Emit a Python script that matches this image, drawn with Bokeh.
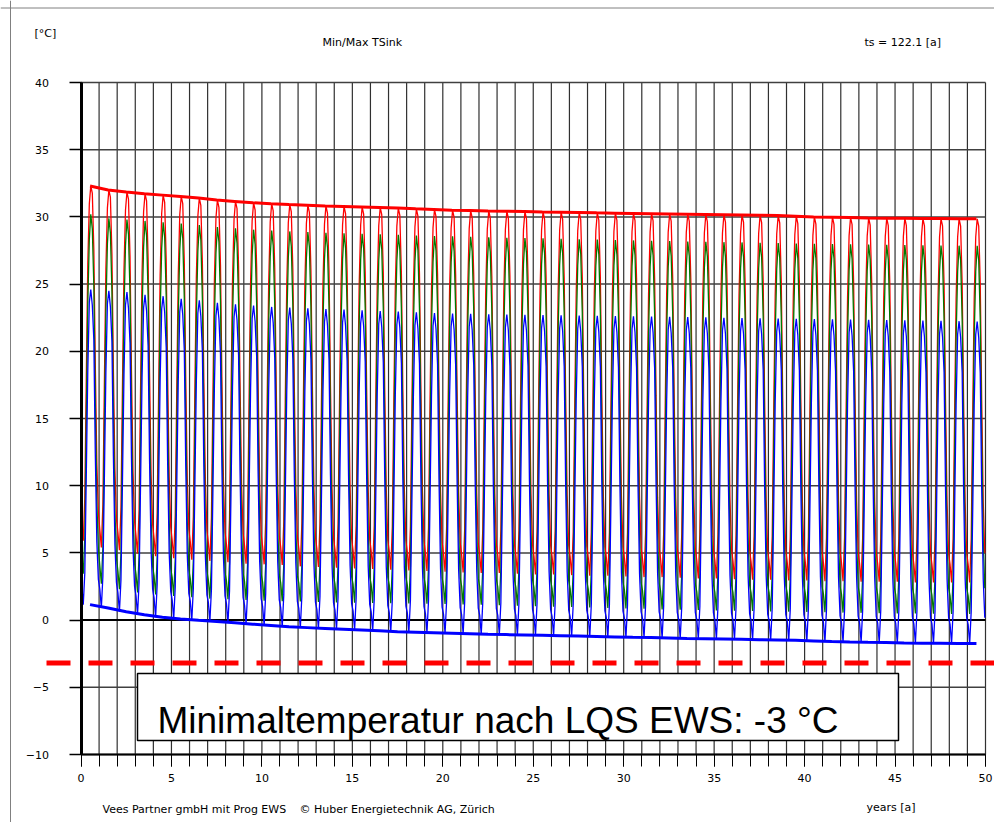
from bokeh.plotting import figure
from bokeh.models import Range1d, LinearAxis, FixedTicker, Label, BoxAnnotation, Span
from bokeh.embed import file_html
from bokeh.resources import INLINE

# ---------------- data ----------------
YEARS = list(range(50))
X_LABEL_TICKS = [0, 5, 10, 15, 20, 25, 30, 35, 40, 45, 50]
X_YEAR_TICKS = list(range(51))
Y_TICKS = [-10, -5, 0, 5, 10, 15, 20, 25, 30, 35, 40]

# yearly maximum envelope (red, thick) = red peaks
RED_MAX_ENV = [32.3, 32.0, 31.85, 31.72, 31.62, 31.52, 31.4, 31.25, 31.15, 31.05,
               30.98, 30.92, 30.87, 30.82, 30.78, 30.74, 30.7, 30.66, 30.6, 30.55,
               30.5, 30.47, 30.44, 30.42, 30.4, 30.37, 30.35, 30.33, 30.3, 30.28,
               30.26, 30.24, 30.22, 30.2, 30.18, 30.16, 30.14, 30.12, 30.1, 30.05,
               30.0, 29.98, 29.96, 29.92, 29.9, 29.9, 29.88, 29.88, 29.86, 29.86]
# yearly minimum envelope (blue, thick) = blue troughs
BLUE_MIN_ENV = [1.15, 0.9, 0.62, 0.4, 0.22, 0.08, -0.02, -0.1, -0.2, -0.3,
                -0.4, -0.5, -0.56, -0.62, -0.68, -0.74, -0.8, -0.86, -0.9, -0.94,
                -0.98, -1.02, -1.06, -1.08, -1.1, -1.13, -1.16, -1.19, -1.22, -1.25,
                -1.28, -1.3, -1.33, -1.36, -1.38, -1.4, -1.43, -1.46, -1.48, -1.5,
                -1.55, -1.6, -1.63, -1.65, -1.66, -1.7, -1.72, -1.73, -1.74, -1.75]
RED_LOW = [5.9, 5.4, 5.2, 4.95, 4.75, 4.6, 4.5, 4.4, 4.3, 4.2,
           4.15, 4.1, 4.0, 3.95, 3.9, 3.85, 3.8, 3.75, 3.7, 3.65,
           3.6, 3.55, 3.5, 3.5, 3.45, 3.4, 3.4, 3.35, 3.3, 3.3,
           3.25, 3.2, 3.2, 3.15, 3.1, 3.1, 3.05, 3.0, 3.0, 2.95,
           2.95, 2.9, 2.9, 2.85, 2.85, 2.85, 2.8, 2.8, 2.8, 2.8]
GREEN_HIGH = [30.2, 29.9, 29.8, 29.7, 29.6, 29.5, 29.4, 29.25, 29.15, 29.05,
              28.98, 28.92, 28.87, 28.82, 28.78, 28.74, 28.7, 28.66, 28.62, 28.58,
              28.55, 28.52, 28.48, 28.45, 28.42, 28.4, 28.37, 28.34, 28.31, 28.28,
              28.25, 28.22, 28.2, 28.17, 28.14, 28.12, 28.1, 28.08, 28.05, 28.02,
              28.0, 27.98, 27.96, 27.94, 27.92, 27.9, 27.88, 27.87, 27.86, 27.85]
GREEN_LOW = [3.45, 2.7, 2.3, 2.05, 1.9, 1.8, 1.7, 1.6, 1.55, 1.5,
             1.45, 1.4, 1.38, 1.35, 1.32, 1.3, 1.28, 1.26, 1.24, 1.22,
             1.2, 1.17, 1.14, 1.1, 1.07, 1.04, 1.0, 0.97, 0.94, 0.9,
             0.87, 0.84, 0.8, 0.78, 0.75, 0.72, 0.7, 0.68, 0.65, 0.62,
             0.6, 0.58, 0.56, 0.54, 0.52, 0.5, 0.5, 0.48, 0.46, 0.45]
BLUE_HIGH = [24.6, 24.5, 24.4, 24.2, 24.1, 23.9, 23.8, 23.6, 23.5, 23.4,
             23.3, 23.25, 23.2, 23.15, 23.1, 23.05, 23.0, 22.95, 22.9, 22.85,
             22.8, 22.78, 22.76, 22.74, 22.72, 22.7, 22.68, 22.66, 22.64, 22.62,
             22.6, 22.58, 22.56, 22.54, 22.52, 22.5, 22.48, 22.46, 22.44, 22.42,
             22.4, 22.38, 22.36, 22.34, 22.32, 22.3, 22.28, 22.26, 22.24, 22.22]

# monthly course inside one year (0 = yearly low, 1 = yearly high)
MONTH_PHASE = [0.04, 0.125, 0.21, 0.29, 0.375, 0.46, 0.54, 0.625, 0.71, 0.79, 0.875, 0.96]
RED_SHAPE = [0.05, 0.0, 0.12, 0.45, 0.78, 0.95, 1.0, 0.98, 0.82, 0.5, 0.22, 0.08]
GREEN_SHAPE = [0.05, 0.0, 0.1, 0.42, 0.75, 0.93, 1.0, 0.96, 0.8, 0.48, 0.2, 0.07]
BLUE_SHAPE = [0.06, 0.0, 0.1, 0.4, 0.74, 0.96, 1.0, 0.95, 0.84, 0.48, 0.2, 0.08]

LQS_MIN_LINE = -3.2
LQS_TEXT = "Minimaltemperatur nach LQS EWS: -3 °C"

# ---------------- geometry (page pixels -> data) ----------------
W, H = 994, 822
OFF = 0                    # page offset of the canvas
PX0, PXS = 80.5, 18.09     # page x of year 0, px per year
PY0, PYS = 619.6, 13.44    # page y of 0 °C, px per °C


def dx(px):
    return (px - PX0) / PXS


def dy(py):
    return (PY0 - py) / PYS


p = figure(width=W, height=H, output_backend="svg", toolbar_location=None,
           x_range=Range1d(dx(OFF), dx(OFF + W)), y_range=Range1d(dy(OFF + H), dy(OFF)),
           x_axis_type=None, y_axis_type=None, min_border=0)
p.outline_line_color = None
p.background_fill_color = "white"
p.border_fill_color = "white"

FONT = "DejaVu Sans"
X_MIN, X_MAX = X_YEAR_TICKS[0], X_YEAR_TICKS[-1]
Y_MIN, Y_MAX = Y_TICKS[0], Y_TICKS[-1]

# grid lines (years / every 5 °C)
p.segment(x0=X_YEAR_TICKS, y0=[Y_MIN] * len(X_YEAR_TICKS), x1=X_YEAR_TICKS, y1=[Y_MAX] * len(X_YEAR_TICKS),
          line_color="#303030", line_width=1.2)
p.segment(x0=[X_MIN] * len(Y_TICKS), y0=Y_TICKS, x1=[X_MAX] * len(Y_TICKS), y1=Y_TICKS,
          line_color="#404040", line_width=1.5)

# axes placed inside the frame
yax = LinearAxis(fixed_location=0, bounds=(Y_MIN, Y_MAX),
                 ticker=FixedTicker(ticks=Y_TICKS, minor_ticks=[]),
                 axis_line_color="black", axis_line_width=3,
                 major_tick_in=0, major_tick_out=12, major_tick_line_width=1.5,
                 major_tick_line_color="black",
                 minor_tick_in=0, minor_tick_out=0,
                 major_label_standoff=20, major_label_text_font_size="11px",
                 major_label_text_font=FONT, major_label_text_color="black")
p.add_layout(yax, "left")
xax = LinearAxis(fixed_location=Y_MIN, bounds=(X_MIN, X_MAX),
                 ticker=FixedTicker(ticks=X_LABEL_TICKS, minor_ticks=X_YEAR_TICKS),
                 axis_line_color="black", axis_line_width=2,
                 major_tick_in=0, major_tick_out=12, major_tick_line_color="black",
                 minor_tick_in=0, minor_tick_out=12, minor_tick_line_color="black",
                 minor_tick_line_width=1,
                 major_label_standoff=7, major_label_text_font_size="11px",
                 major_label_text_font=FONT, major_label_text_color="black")
p.add_layout(xax, "below")

# zero line
p.line(x=[X_MIN, X_MAX], y=[0, 0], line_color="black", line_width=2)


def build(low, high, shape):
    xs, ys = [], []
    for i in YEARS:
        for ph, f in zip(MONTH_PHASE, shape):
            xs.append(i + ph)
            ys.append(low[i] + (high[i] - low[i]) * f)
    return xs, ys


rx, ry = build(RED_LOW, RED_MAX_ENV, RED_SHAPE)
gx, gy = build(GREEN_LOW, GREEN_HIGH, GREEN_SHAPE)
bx, by = build(BLUE_MIN_ENV, BLUE_HIGH, BLUE_SHAPE)
p.line(rx, ry, line_color="#ff0000", line_width=1.3)
p.line(gx, gy, line_color="#007a00", line_width=1.3)
p.line(bx, by, line_color="#0000ff", line_width=1.3)

env_x = [i + 0.5 for i in YEARS]
p.line(env_x, RED_MAX_ENV, line_color="#ff0000", line_width=3)
p.line(env_x, BLUE_MIN_ENV, line_color="#0000ff", line_width=3)

# LQS minimum line
p.line(x=[dx(46), dx(OFF + W + 10)], y=[LQS_MIN_LINE, LQS_MIN_LINE], line_color="#ff0000",
       line_width=5, line_dash="24 18", line_cap="butt")

# page border (top/left)
p.add_layout(Span(location=dx(10), dimension="height", line_color="#808080", line_width=1))
p.add_layout(Span(location=dy(7.5), dimension="width", line_color="#808080", line_width=1))

# legend box
p.add_layout(BoxAnnotation(left=dx(137), right=dx(898), top=dy(673), bottom=dy(740),
                           fill_color="white", fill_alpha=1.0, line_color="black",
                           line_alpha=1.0, line_width=1.5))
p.add_layout(Label(x=dx(157), y=dy(720), text=LQS_TEXT, text_font="Liberation Sans",
                   text_font_size="37px", text_baseline="alphabetic", text_align="left",
                   text_color="black"))


# texts
def small(text, px, py):
    p.add_layout(Label(x=dx(px), y=dy(py), text=text, text_font=FONT, text_font_size="11px",
                       text_baseline="middle", text_align="left", text_color="black"))


small("[°C]", 34, 33)
small("Min/Max TSink", 322, 41.5)
small("ts = 122.1 [a]", 864, 42)
small("years [a]", 866, 807)
small("Vees Partner gmbH mit Prog EWS", 102, 809)
small("© Huber Energietechnik AG, Zürich", 299, 809)

open("out.html", "w").write(file_html(p, INLINE))
